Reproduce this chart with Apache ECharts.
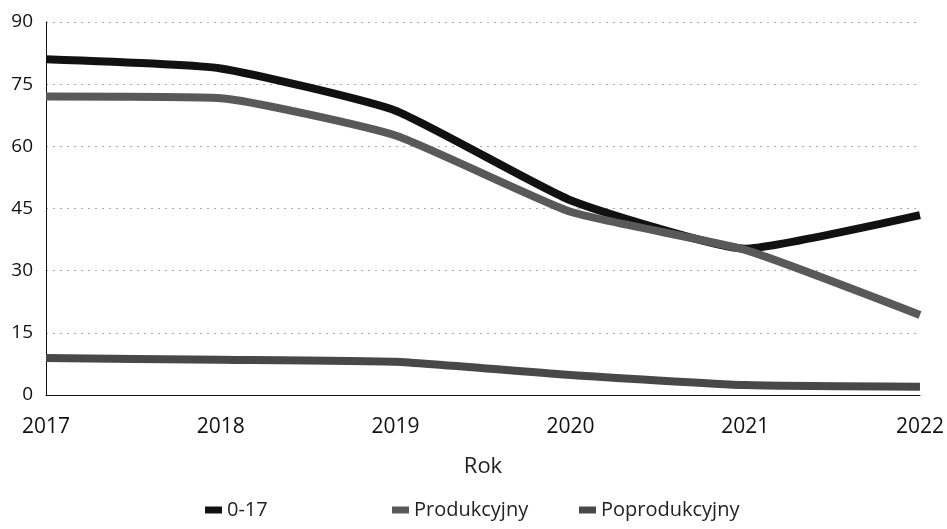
<!DOCTYPE html>
<html>
<head>
<meta charset="utf-8">
<script src="https://cdn.jsdelivr.net/npm/echarts@6/dist/echarts.min.js"></script>
<style>
  html, body { margin: 0; padding: 0; background: #fff; }
  #chart { width: 947px; height: 529px; }
</style>
</head>
<body>
<div id="chart"></div>
<script>
// lata
const years = ['2017', '2018', '2019', '2020', '2021', '2022']
// wartości serii
const age017 = [81, 78.8, 68.6, 47, 35.3, 43.4]
const produkcyjny = [72, 71.6, 62.6, 44.2, 35, 19.3]
const poprodukcyjny = [8.9, 8.5, 8, 4.8, 2.4, 2]

const chart = echarts.init(document.getElementById('chart'))

const font = 'Open Sans'

// wspólny styl legendy
const legendBase = {
  top: 495,
  itemWidth: 17,
  itemHeight: 7,
  icon: 'rect',
  textStyle: { fontFamily: font, fontSize: 20, color: '#222' }
}

const option = {
  animation: false,
  grid: { left: 46, right: 27, top: 22, bottom: 134 },
  legend: [
    { ...legendBase, data: ['0-17'], left: 200 },
    { ...legendBase, data: ['Produkcyjny'], left: 387 },
    { ...legendBase, data: ['Poprodukcyjny'], left: 574 }
  ],
  xAxis: {
    type: 'category',
    data: years,
    boundaryGap: false,
    name: 'Rok',
    nameLocation: 'middle',
    nameGap: 61,
    nameTextStyle: { fontFamily: font, fontSize: 22, color: '#222' },
    axisLine: { lineStyle: { color: '#111', width: 1 } },
    axisTick: { show: false },
    axisLabel: { fontFamily: font, fontSize: 21, color: '#111', margin: 22 }
  },
  yAxis: {
    type: 'value',
    min: 0,
    max: 90,
    interval: 15,
    axisLine: { show: true, lineStyle: { color: '#111', width: 1 } },
    axisTick: { show: false },
    axisLabel: { fontFamily: font, fontSize: 19, color: '#111', margin: 13 },
    splitLine: { lineStyle: { color: '#aaa', type: [2, 5], width: 1 } }
  },
  series: [
    {
      name: '0-17', type: 'line', data: age017, smooth: 0.15, symbol: 'none',
      z: 3, itemStyle: { color: '#111' }, lineStyle: { color: '#111', width: 8 }
    },
    {
      name: 'Produkcyjny', type: 'line', data: produkcyjny, smooth: 0.15, symbol: 'none',
      z: 4, itemStyle: { color: '#595959' }, lineStyle: { color: '#595959', width: 8 }
    },
    {
      name: 'Poprodukcyjny', type: 'line', data: poprodukcyjny, smooth: 0.15, symbol: 'none',
      z: 2, itemStyle: { color: '#484848' }, lineStyle: { color: '#484848', width: 8 }
    }
  ]
}

chart.setOption(option)
</script>
</body>
</html>
